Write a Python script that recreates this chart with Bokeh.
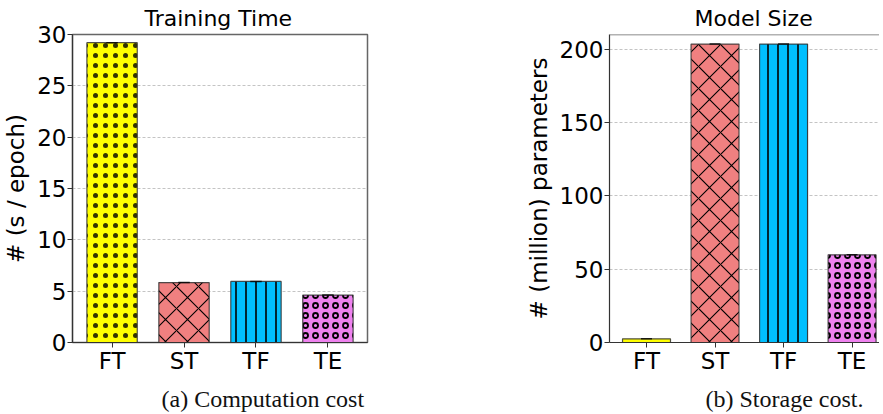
from bokeh.plotting import figure
from bokeh.models import Range1d, FixedTicker, Span, Title, ColumnDataSource
from bokeh.layouts import row
from bokeh.embed import file_html
from bokeh.resources import INLINE

methods = ["FT", "ST", "TF", "TE"]
train_time = [29.2, 5.84, 5.95, 4.62]
model_size = [2.5, 203.5, 203.5, 59.8]
time_ticks = [0, 5, 10, 15, 20, 25, 30]
size_ticks = [0, 50, 100, 150, 200]

colors = ["#ffff00", "#f08080", "#00bfff", "#ee82ee"]
hatches = ["dot", "diagonal_cross", "vertical_line", "ring"]
hatch_scales = [10, 22, 10, 10]
hatch_weights = [0.4, 1.1, 1.6, 1.8]
hatch_alphas = [0.8, 1.0, 1.0, 1.0]

FONT = "DejaVu Sans"


def make_chart(title, ylabel, values, ticks, y_end, x_start, x_end, frame_w,
               min_left, min_right, title_offset, caption, cap_offset, full_outline):
    xs = list(range(len(methods)))
    p = figure(frame_width=frame_w, frame_height=308,
               x_range=Range1d(x_start, x_end), y_range=Range1d(0, y_end),
               output_backend="svg", toolbar_location=None,
               min_border_left=min_left, min_border_right=min_right,
               min_border_top=0, min_border_bottom=0,
               background_fill_color="white", border_fill_color="white")
    src = ColumnDataSource(dict(x=xs, top=values, color=colors, hatch=hatches,
                                scale=hatch_scales, hw=hatch_weights, ha=hatch_alphas))
    p.vbar(x="x", top="top", width=0.7, source=src, fill_color="color",
           line_color="#333333", line_width=1.2, line_alpha=0.85,
           hatch_pattern="hatch", hatch_color="black", hatch_scale="scale",
           hatch_weight="hw", hatch_alpha="ha")
    # tiny error caps at bar tops
    p.segment(x0=[x - 0.08 for x in xs], y0=values, x1=[x + 0.08 for x in xs],
              y1=values, line_color="black", line_width=1.5, line_alpha=0.8)

    p.title.text = title
    p.title.text_font = FONT
    p.title.text_font_size = "22px"
    p.title.text_font_style = "normal"
    p.title.text_color = "black"
    p.title.align = "left"
    p.title.offset = title_offset
    p.title.standoff = 7

    p.add_layout(Title(text=caption, align="left", offset=cap_offset,
                       text_font="Liberation Serif", text_font_size="24px",
                       text_font_style="normal", text_color="#111111",
                       standoff=14), "below")

    p.xaxis.ticker = FixedTicker(ticks=xs)
    p.xaxis.major_label_overrides = {i: m for i, m in enumerate(methods)}
    p.yaxis.ticker = FixedTicker(ticks=ticks)
    for ax in (p.xaxis, p.yaxis):
        ax.major_label_text_font = FONT
        ax.major_label_text_font_size = "23px"
        ax.major_label_text_color = "black"
        ax.axis_line_color = "#333333"
        ax.axis_line_width = 1.2
        ax.major_tick_line_color = "#333333"
        ax.major_tick_in = 0
        ax.major_tick_out = 5
        ax.minor_tick_line_color = None
    p.xaxis.major_label_standoff = 0
    p.yaxis.major_label_standoff = 1
    p.yaxis.axis_label = ylabel
    p.yaxis.axis_label_text_font = FONT
    p.yaxis.axis_label_text_font_size = "23px"
    p.yaxis.axis_label_text_font_style = "normal"
    p.yaxis.axis_label_text_color = "black"
    p.yaxis.axis_label_standoff = 5

    p.xgrid.visible = False
    p.ygrid.grid_line_color = "#b5b5b5"
    p.ygrid.grid_line_dash = "3 2"
    p.ygrid.grid_line_width = 0.8

    if full_outline:
        p.outline_line_color = "#666666"
        p.outline_line_width = 1.5
    else:
        p.outline_line_color = None
        p.add_layout(Span(location=y_end, dimension="width",
                          line_color="#666666", line_width=1.5))
    return p


p1 = make_chart("Training Time", "# (s / epoch)", train_time, time_ticks, 30,
                -0.55, 3.55, 295, 0, 155, 72, "(a) Computation cost", 89, True)
p2 = make_chart("Model Size", "# (million) parameters", model_size, size_ticks, 210,
                -0.54, 3.40, 270, 0, 0, 85, "(b) Storage cost.", 96, False)

layout = row(p1, p2)
open("out.html", "w").write(file_html(layout, INLINE))
